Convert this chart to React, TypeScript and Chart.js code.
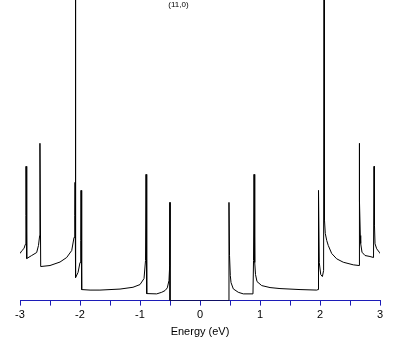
import { useEffect, useRef } from 'react';
import { Chart, registerables } from 'chart.js';

Chart.register(...registerables);

// Energy (eV) of each sampled point of the density of states curve
const energy = [
  -3.0, -2.967, -2.933, -2.912, -2.902, -2.9, -2.888, -2.805, -2.722, -2.692,
  -2.672, -2.668, -2.667, -2.655, -2.5, -2.333, -2.222, -2.138, -2.1, -2.087,
  -2.083, -2.08, -2.067, -2.033, -2.0, -1.988, -1.983, -1.972, -1.833, -1.667,
  -1.333, -1.117, -1.0, -0.933, -0.908, -0.9, -0.888, -0.722, -0.638, -0.583,
  -0.545, -0.517, -0.505, -0.5, -0.5,
  0.483, 0.483, 0.492, 0.505, 0.517, 0.555, 0.638, 0.722, 0.883, 0.892,
  0.9, 0.912, 0.925, 0.95, 1.028, 1.167, 1.333, 1.667, 1.945, 1.967,
  1.975, 1.988, 2.012, 2.04, 2.06, 2.067, 2.072, 2.078, 2.088, 2.112,
  2.138, 2.195, 2.278, 2.388, 2.555, 2.65, 2.655, 2.66, 2.672, 2.678,
  2.7, 2.75, 2.833, 2.892, 2.9, 2.908, 2.917, 2.945, 2.988, 3.0,
];

// Density of states (arbitrary units) at each energy above
const dos = [
  0.47, 0.5, 0.52, 0.56, 0.85, 1.34, 0.42, 0.45, 0.48, 0.55,
  0.65, 1.1, 1.57, 0.34, 0.35, 0.385, 0.43, 0.5, 0.63, 0.85,
  1.18, 3.6, 0.23, 0.28, 0.38, 0.6, 1.1, 0.11, 0.105, 0.105,
  0.115, 0.133, 0.16, 0.22, 0.4, 1.26, 0.07, 0.067, 0.083, 0.1,
  0.127, 0.2, 0.35, 0.98, 0.0,
  0.0, 0.98, 0.45, 0.25, 0.18, 0.117, 0.083, 0.067, 0.067, 0.4,
  1.26, 0.38, 0.26, 0.19, 0.15, 0.13, 0.12, 0.11, 0.105, 0.11,
  1.1, 0.38, 0.26, 0.24, 0.3, 3.6, 1.18, 0.8, 0.67, 0.6,
  0.55, 0.47, 0.417, 0.383, 0.357, 0.35, 1.57, 1.0, 0.65, 0.57,
  0.483, 0.45, 0.44, 0.43, 1.34, 0.75, 0.567, 0.517, 0.483, 0.47,
];

const xLabels = [-3, -2, -1, 0, 1, 2, 3];
const chartTitle = '(11,0)';
const xAxisTitle = 'Energy (eV)';
const titleEnergy = -0.36;

const FONT = '"Liberation Sans", Arial, sans-serif';
const AXIS_BLUE = '#1c1cb8';

const titlePlugin = {
  id: 'innerTitle',
  afterDraw(chart: any) {
    const { ctx, chartArea } = chart;
    const xs = chart.scales.x;
    ctx.save();
    ctx.font = `8px ${FONT}`;
    ctx.fillStyle = '#000';
    ctx.textAlign = 'center';
    ctx.textBaseline = 'middle';
    ctx.fillText(chartTitle, xs.getPixelForValue(titleEnergy), chartArea.top + 5);
    ctx.restore();
  },
};

export default function App() {
  const ref = useRef<HTMLCanvasElement | null>(null);

  useEffect(() => {
    if (!ref.current) return;
    const points = energy.map((e, i) => ({ x: e, y: dos[i] }));
    const chart = new Chart(ref.current, {
      type: 'scatter',
      data: {
        datasets: [
          {
            data: points,
            showLine: true,
            borderColor: '#000',
            borderWidth: 1,
            pointRadius: 0,
            tension: 0,
            fill: false,
          },
        ],
      },
      options: {
        animation: false,
        responsive: false,
        events: [],
        layout: { padding: { left: 20, right: 29, top: 0, bottom: 6 } },
        plugins: {
          legend: { display: false },
          tooltip: { enabled: false },
          title: { display: false },
        },
        scales: {
          x: {
            type: 'linear',
            min: -3,
            max: 3,
            border: { display: true, color: AXIS_BLUE, width: 1 },
            grid: {
              drawOnChartArea: false,
              drawTicks: true,
              tickLength: 5,
              color: AXIS_BLUE,
            },
            ticks: {
              stepSize: 0.5,
              autoSkip: false,
              maxRotation: 0,
              padding: 3,
              color: '#000',
              font: { family: FONT, size: 11 },
              callback: (v: any) => (xLabels.includes(Number(v)) ? String(v) : ''),
            },
            title: {
              display: true,
              text: xAxisTitle,
              color: '#000',
              font: { family: FONT, size: 11 },
              padding: { top: 1, bottom: 0 },
            },
          },
          y: {
            type: 'linear',
            display: false,
            min: 0,
            max: 3,
          },
        },
      },
      plugins: [titlePlugin],
    });
    return () => chart.destroy();
  }, []);

  return (
    <div style={{ position: 'fixed', left: 0, top: 0, width: 409, height: 345, background: '#fff' }}>
      <canvas ref={ref} width={409} height={345} style={{ display: 'block' }} />
    </div>
  );
}
